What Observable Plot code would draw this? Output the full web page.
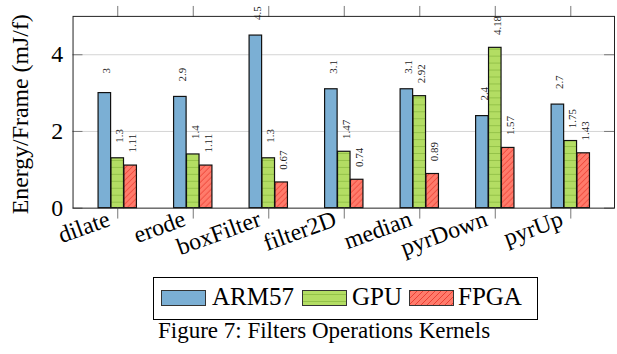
<!DOCTYPE html>
<html><head><meta charset="utf-8">
<script src="https://cdn.jsdelivr.net/npm/d3@7"></script>
<script src="https://cdn.jsdelivr.net/npm/@observablehq/plot@0.6"></script>
<style>
body{margin:0;background:#fff;}
#wrap{position:relative;width:617px;height:354px;overflow:hidden;font-family:'Liberation Serif',serif;background:#fff;}
#chart{position:absolute;left:0;top:0;}
#overlay{position:absolute;left:0;top:0;pointer-events:none;}
#wrap text{font-family:'Liberation Serif',serif !important;}
</style></head>
<body>
<div id="wrap">
<div id="chart"></div>
<svg id="overlay" width="617" height="354">
<defs>
<pattern id="gpuPat" patternUnits="userSpaceOnUse" width="10" height="7">
<rect width="10" height="7" fill="#B3DD63"/>
<line x1="0" y1="0.5" x2="10" y2="0.5" stroke="#8CBB43" stroke-width="0.8"/>
</pattern>
<pattern id="fpgaPat" patternUnits="userSpaceOnUse" width="6" height="6">
<rect width="6" height="6" fill="#FF7B6B"/>
<path d="M0,6L6,0M-1,1L1,-1M5,7L7,5" stroke="#E3271D" stroke-width="0.7"/>
</pattern>
</defs>
<g id="legend"></g>
</svg>
</div>
<script>
const categories = ["dilate","erode","boxFilter","filter2D","median","pyrDown","pyrUp"];
const seriesNames = ["ARM57","GPU","FPGA"];
const arm57 = [3, 2.9, 4.5, 3.1, 3.1, 2.4, 2.7];
const gpu = [1.3, 1.4, 1.3, 1.47, 2.92, 4.18, 1.75];
const fpga = [1.11, 1.11, 0.67, 0.74, 0.89, 1.57, 1.43];
const yTicks = [0, 2, 4];
const yLabel = "Energy/Frame (mJ/f)";
const caption = "Figure 7: Filters Operations Kernels";

const seriesValues = [arm57, gpu, fpga];
const fills = ["#7BAFD4", "url(#gpuPat)", "url(#fpgaPat)"];
const offsets = [-13, 0, 13];
const FONT = "'Liberation Serif', serif";

const rows = seriesNames.map((s, j) => categories.map((c, i) => ({cat: c, series: s, value: seriesValues[j][i]})));

const bandW = 76, barW = 12.6, inset = (bandW - barW) / 2;
const innerW = 621 - 73 - 3;

const marks = [
  Plot.gridY([2, 4], {stroke: "#d4d4d4", strokeOpacity: 1, strokeWidth: 1}),
  ...rows.map((data, j) => Plot.barY(data, {
    x: "cat", y: "value", fill: fills[j], stroke: "#111", strokeWidth: 1.2,
    insetLeft: inset, insetRight: inset, dx: offsets[j]
  })),
  Plot.tickY(yTicks, {y: d => d, stroke: "#777", insetRight: innerW - 10}),
  Plot.tickY(yTicks, {y: d => d, stroke: "#777", insetLeft: innerW - 10}),
  Plot.axisX({anchor: "top", tickSize: 11, tickFormat: () => "", stroke: "#777", label: null}),
  Plot.axisX({anchor: "bottom", tickSize: 11, tickFormat: () => "", stroke: "#777", label: null}),
  Plot.axisX({anchor: "bottom", tickSize: 0, tickPadding: 10, tickRotate: -20, fontSize: 24, dx: -9, label: null}),
  Plot.axisY({ticks: yTicks, tickFormat: d => String(d), tickSize: 0, tickPadding: 10, fontSize: 24, label: null}),
  Plot.frame({stroke: "#222", strokeWidth: 1}),
  ...rows.map((data, j) => Plot.text(data, {
    x: "cat", y: "value", text: d => String(d.value), rotate: -90,
    dx: offsets[j] + 2, dy: -22.5, fontSize: 11, fill: "#222",
    textAnchor: "middle", lineAnchor: "middle"
  })),
  Plot.text([yLabel], {frameAnchor: "left", rotate: -90, dx: -53, dy: 2, fontSize: 24, fill: "#000", lineAnchor: "middle", textAnchor: "middle"})
];

const chart = Plot.plot({
  width: 621, height: 272,
  marginLeft: 73, marginRight: 3, marginTop: 16, marginBottom: 63,
  style: {fontFamily: FONT, fontSize: "24px", color: "#000", background: "transparent", overflow: "visible"},
  x: {type: "band", domain: categories, range: [80, 612], padding: 0, label: null},
  y: {domain: [0, 5], label: null},
  marks
});
document.getElementById("chart").appendChild(chart);

// legend and caption
const lg = d3.select("#legend");
lg.append("rect").attr("x", 153.5).attr("y", 277.5).attr("width", 384).attr("height", 42)
  .attr("fill", "#fff").attr("stroke", "#000").attr("stroke-width", 1);
const swX = [161, 302, 409], txX = [212, 352, 458];
seriesNames.forEach((s, j) => {
  lg.append("rect").attr("x", swX[j] + 0.5).attr("y", 290.5).attr("width", 44).attr("height", 15)
    .attr("fill", fills[j]).attr("stroke", "#333").attr("stroke-width", 1);
  lg.append("text").attr("x", txX[j]).attr("y", 305).attr("font-size", 25).attr("fill", "#000").text(s);
});
lg.append("text").attr("x", 158).attr("y", 338).attr("font-size", 23).attr("fill", "#000").text(caption);
</script>
</body></html>
